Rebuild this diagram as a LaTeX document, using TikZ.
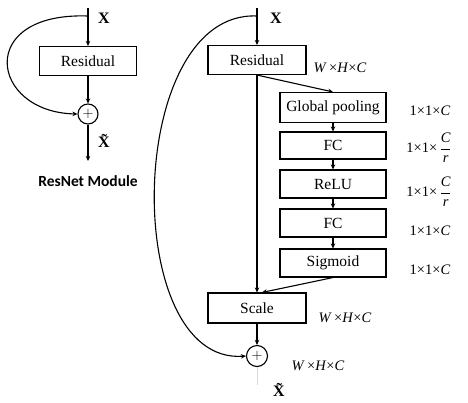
\documentclass[tikz,border=0pt]{standalone}
\usepackage{fontspec}
\setmainfont{Liberation Serif}
\newfontfamily\labelsans{Carlito}
\usetikzlibrary{arrows.meta}
\begin{document}
\begin{tikzpicture}[x=1pt,y=-1pt, line width=1.1pt,
  >={Stealth[length=5pt,width=4.5pt]},
  box/.style={draw, minimum width=97pt, minimum height=29pt, inner sep=0pt,
    font=\fontsize{15.5}{18}\selectfont},
  sebox/.style={box, minimum width=106pt, minimum height=28pt},
  plus/.style={draw, circle, minimum size=20pt, inner sep=0pt,
    font=\fontsize{15}{15}\selectfont},
  xlab/.style={font=\fontsize{16}{18}\selectfont\bfseries},
  dimlab/.style={font=\fontsize{14.5}{16}\selectfont, inner sep=1pt},
  title/.style={font=\fontsize{15.5}{18}\selectfont\labelsans\bfseries}]
\useasboundingbox (0,0) rectangle (468,402);
% ---------- left: ResNet module ----------
\coordinate (ltop) at (88,8);
\coordinate (lsplit) at (88,16);
\coordinate (lend) at (88,161);
\node[box] (lres) at (88,61) {Residual};
\node[plus] (lplus) at (88,114) {$+$};
\node[xlab] (lx) at (104,18) {X};
\node[xlab] (lxt) at (104,141) {\~X};
\node[title] (ltitle) at (88,181) {ResNet Module};
\draw[->] (ltop) -- (lres.north);
\draw[->] (lres.south) -- (lplus.north);
\draw[->] (lsplit) .. controls (-25,12) and (-10,112) .. (lplus.west);
\draw[->] (lplus.south) -- (lend);
% ---------- right: SE module ----------
\coordinate (rtop) at (257,8);
\coordinate (rsplit) at (257,16);
\coordinate (rend) at (257,385);
\node[box, minimum width=98pt] (rres) at (257,60) {Residual};
\node[sebox, minimum height=30pt] (gp) at (333,107.5) {Global pooling};
\node[sebox, minimum height=27pt] (fc1) at (333,145.5) {FC};
\node[sebox] (relu) at (333,184) {ReLU};
\node[sebox] (fc2) at (333,223) {FC};
\node[sebox] (sig) at (333,263) {Sigmoid};
\node[box, minimum width=98pt, minimum height=30pt] (scale) at (257,308) {Scale};
\node[plus, minimum size=21pt] (rplus) at (257,356) {$+$};
\node[xlab] (rx) at (276,18) {X};
\node[xlab] (rxt) at (279,390) {\~X};
\node[dimlab] (d1) at (340,68) {\textit{W}\,×\textit{H}×\textit{C}};
\node[dimlab] (d2) at (430,111) {1×1×\textit{C}};
\node[dimlab] (d3) at (429,148) {1×1×\,$\displaystyle\frac{\textit{C}}{\textit{r}}$};
\node[dimlab] (d4) at (429,192) {1×1×\,$\displaystyle\frac{\textit{C}}{\textit{r}}$};
\node[dimlab] (d5) at (430,231) {1×1×\textit{C}};
\node[dimlab] (d6) at (430,270) {1×1×\textit{C}};
\node[dimlab] (d7) at (345,318) {\textit{W}\,×\textit{H}×\textit{C}};
\node[dimlab] (d8) at (318,366) {\textit{W}\,×\textit{H}×\textit{C}};
\draw[->] (rtop) -- (rres.north);
\draw[->] (rres.south) -- (gp.north);
\draw[->] (rres.south) -- (scale.north);
\draw[->] (gp) -- (fc1);
\draw[->] (fc1) -- (relu);
\draw[->] (relu) -- (fc2);
\draw[->] (fc2) -- (sig);
\draw[->] (sig.south) -- ([xshift=5pt]scale.north);
\draw[->] (scale.south) -- (rplus.north);
\draw[->] (rsplit) .. controls (125,10) and (120,365) .. (rplus.west);
\draw[black!15, line width=0.8pt] (rplus.south) -- (rend);
\end{tikzpicture}
\end{document}
